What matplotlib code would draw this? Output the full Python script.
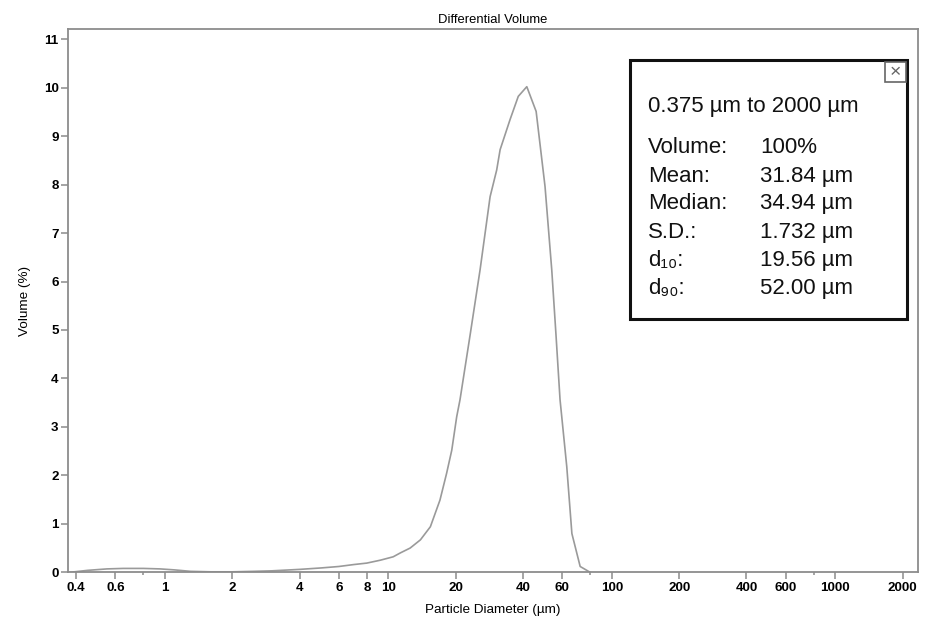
import matplotlib

matplotlib.use("Agg")

from matplotlib import pyplot as plt  # noqa: E402
from matplotlib.patches import Rectangle  # noqa: E402
from matplotlib.ticker import FixedLocator, NullFormatter  # noqa: E402

# particle diameter (um) and differential volume (%)
diameter = [
    0.375, 0.45, 0.55, 0.65, 0.8, 0.95, 1.1, 1.3, 1.6, 2.0, 2.5, 3.0, 4.0,
    5.0, 6.0, 7.0, 8.0, 9.2, 10.5, 11.3, 12.5, 13.9, 15.4, 17.0, 18.2, 19.2,
    20.2, 20.9, 23.2, 25.7, 28.5, 30.5, 31.6, 35.0, 38.1, 41.6, 45.8, 50.2,
    53.8, 56.2, 58.6, 62.8, 66.2, 72.1, 79.9,
]
volume = [
    0.0, 0.04, 0.07, 0.08, 0.08, 0.07, 0.05, 0.02, 0.01, 0.01, 0.02, 0.03, 0.06,
    0.09, 0.12, 0.16, 0.19, 0.25, 0.32, 0.40, 0.50, 0.67, 0.94, 1.49, 2.04, 2.52,
    3.21, 3.56, 4.9, 6.24, 7.75, 8.30, 8.72, 9.34, 9.82, 10.02, 9.51, 7.96,
    6.24, 4.9, 3.56, 2.18, 0.80, 0.12, 0.0,
]

x_major = [0.4, 0.6, 1, 2, 4, 6, 8, 10, 20, 40, 60, 100, 200, 400, 600, 1000, 2000]
x_labels = ["0.4", "0.6", "1", "2", "4", "6", "8", "10", "20", "40", "60",
            "100", "200", "400", "600", "1000", "2000"]
x_minor = [0.8, 80, 800]
y_major = list(range(0, 12))

stats_header = "0.375 µm to 2000 µm"
stats_names = ["Volume:", "Mean:", "Median:", "S.D.:", "d₁₀:", "d₉₀:"]
stats_values = ["100%", "31.84 µm", "34.94 µm", "1.732 µm", "19.56 µm", "52.00 µm"]

plt.rcParams["font.family"] = ["Liberation Sans", "DejaVu Sans"]

W, H = 928, 619
fig = plt.figure(figsize=(W / 100, H / 100), dpi=100)


def fx(px):
    return px / W


def fy(py):
    return 1 - py / H


ax = fig.add_axes([fx(68.3), fy(572.3), fx(918) - fx(68.3), fy(29) - fy(572.3)])
ax.plot(diameter, volume, color="#9a9a9a", linewidth=1.2)
ax.set_xscale("log")
ax.set_xlim(0.369, 2344)
ax.set_ylim(0, 11.21)

ax.xaxis.set_major_locator(FixedLocator(x_major))
ax.set_xticklabels(x_labels)
ax.xaxis.set_minor_locator(FixedLocator(x_minor))
ax.xaxis.set_minor_formatter(NullFormatter())
ax.set_yticks(y_major)

spine_gray = "#8c8c8c"
for spine in ax.spines.values():
    spine.set_color(spine_gray)
    spine.set_linewidth(1.3)
ax.tick_params(which="major", length=5, width=1.1, color=spine_gray,
               labelsize=9.6, pad=2)
ax.tick_params(which="minor", length=2.5, width=1.1, color=spine_gray)
for lab in ax.get_xticklabels() + ax.get_yticklabels():
    lab.set_fontweight("bold")

ax.set_title("Differential Volume", fontsize=9.4, pad=4)
ax.set_xlabel("Particle Diameter (µm)", fontsize=9.7, labelpad=7)
ax.set_ylabel("Volume (%)", fontsize=9.7, labelpad=9)

# statistics box
fig.patches.append(Rectangle((fx(630), fy(319.3)), fx(907.3) - fx(630),
                             fy(60) - fy(319.3), transform=fig.transFigure,
                             facecolor="white", edgecolor="#111111",
                             linewidth=2.2, zorder=5))
fig.patches.append(Rectangle((fx(885.5), fy(82)), fx(906) - fx(885.5),
                             fy(62) - fy(82), transform=fig.transFigure,
                             facecolor="white", edgecolor="#666666",
                             linewidth=1.2, zorder=6))
fig.text(fx(895.8), fy(72.5), "×", fontsize=14, color="#666666",
         ha="center", va="center", zorder=7)

fig.text(fx(648), fy(111.7), stats_header, fontsize=16, va="baseline",
         color="#111111", zorder=7)
row_baselines = [153.3, 181.7, 209.3, 237.7, 266, 294.3]
for name, value, base in zip(stats_names, stats_values, row_baselines):
    fig.text(fx(648), fy(base), name, fontsize=16, va="baseline",
             color="#111111", zorder=7)
    fig.text(fx(760), fy(base), value, fontsize=16, va="baseline",
             color="#111111", zorder=7)

fig.savefig("out.png", dpi=100)
